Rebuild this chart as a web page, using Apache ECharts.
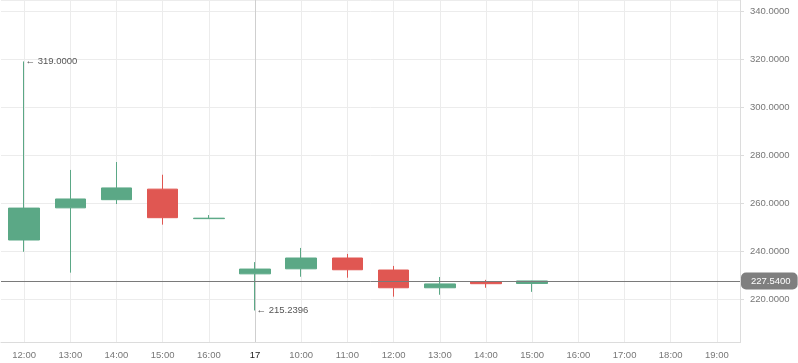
<!DOCTYPE html>
<html>
<head>
<meta charset="utf-8">
<script src="https://cdn.jsdelivr.net/npm/echarts@6/dist/echarts.min.js"></script>
<style>
html,body{margin:0;padding:0;background:#fff;}
#chart{width:798px;height:363px;}
</style>
</head>
<body>
<div id="chart"></div>
<script>
const categories = ['12:00','13:00','14:00','15:00','16:00','17','10:00','11:00','12:00','13:00','14:00','15:00','16:00','17:00','18:00','19:00'];
const openVals  = [244.6, 258.0, 261.4, 265.8, 253.5, 230.5, 232.6, 237.1, 232.1, 224.7, 227.2, 226.5, null, null, null, null];
const closeVals = [257.9, 261.7, 266.3, 253.9, 253.7, 232.5, 237.1, 232.2, 224.7, 226.3, 226.4, 227.54, null, null, null, null];
const lowVals   = [239.7, 231.0, 259.6, 251.0, 253.5, 215.2396, 229.3, 228.9, 221.0, 221.8, 224.7, 223.0, null, null, null, null];
const highVals  = [319.0, 273.8, 277.1, 271.8, 255.0, 235.4, 241.3, 238.8, 233.8, 229.2, 228.0, 227.6, null, null, null, null];
const lastPrice = 227.54;
const yMin = 201.9, yMax = 344.6;

const candleData = categories.map((c, i) => openVals[i] == null ? '-' : [openVals[i], closeVals[i], lowVals[i], highVals[i]]);

const FONT = '"Liberation Sans", Arial, sans-serif';
const FS = 9.5;
const splitColors = categories.map((c, i) => c === '17' ? '#cfcfcf' : '#ececec');

const chart = echarts.init(document.getElementById('chart'), null, {renderer: 'canvas'});
chart.setOption({
  animation: false,
  backgroundColor: '#fff',
  grid: {left: 1, right: 58, top: 0, bottom: 20.5, containLabel: false},
  xAxis: {
    type: 'category',
    data: categories,
    boundaryGap: true,
    axisLine: {show: true, lineStyle: {color: '#dcdcdc'}},
    axisTick: {show: false, alignWithLabel: true},
    splitLine: {show: true, alignWithLabel: true, lineStyle: {color: splitColors, width: 1}},
    axisLabel: {
      interval: 0, margin: 8, fontFamily: FONT, fontSize: FS, color: '#777',
      formatter: v => v === '17' ? '{d|17}' : v,
      rich: {d: {fontFamily: FONT, fontSize: FS, color: '#222'}}
    }
  },
  yAxis: {
    type: 'value',
    position: 'right',
    min: yMin,
    max: yMax,
    splitNumber: 7,
    scale: true,
    axisLine: {show: true, lineStyle: {color: '#dcdcdc'}},
    axisTick: {show: true, length: 4, lineStyle: {color: '#dcdcdc'}},
    splitLine: {show: true, lineStyle: {color: '#ececec'}},
    axisLabel: {
      showMinLabel: false, showMaxLabel: false, margin: 10,
      fontFamily: FONT, fontSize: FS, color: '#777',
      formatter: v => v.toFixed(4)
    }
  },
  series: [{
    type: 'candlestick',
    data: candleData,
    barWidth: 31,
    itemStyle: {
      color: '#5ba886', color0: '#e05752',
      borderColor: '#5ba886', borderColor0: '#e05752', borderWidth: 1
    },
    markPoint: {
      symbol: 'circle', symbolSize: 1,
      itemStyle: {color: 'rgba(0,0,0,0)'},
      label: {
        show: true, position: 'right', distance: 1,
        fontFamily: FONT, fontSize: FS, color: '#555',
        formatter: p => '\u2190 ' + Number(p.value).toFixed(4)
      },
      data: [
        {type: 'max', valueDim: 'highest'},
        {type: 'min', valueDim: 'lowest'}
      ]
    },
    markLine: {
      symbol: ['none', 'none'],
      silent: true,
      lineStyle: {color: '#7a7a7a', width: 1, type: 'solid'},
      label: {
        show: true, position: 'end', distance: 1,
        formatter: () => lastPrice.toFixed(4),
        backgroundColor: '#7f7f7f', color: '#fff',
        fontFamily: FONT, fontSize: FS,
        borderRadius: 5, padding: [4, 7, 3, 10]
      },
      emphasis: {disabled: true},
      data: [{yAxis: lastPrice}]
    }
  }]
});
</script>
</body>
</html>
